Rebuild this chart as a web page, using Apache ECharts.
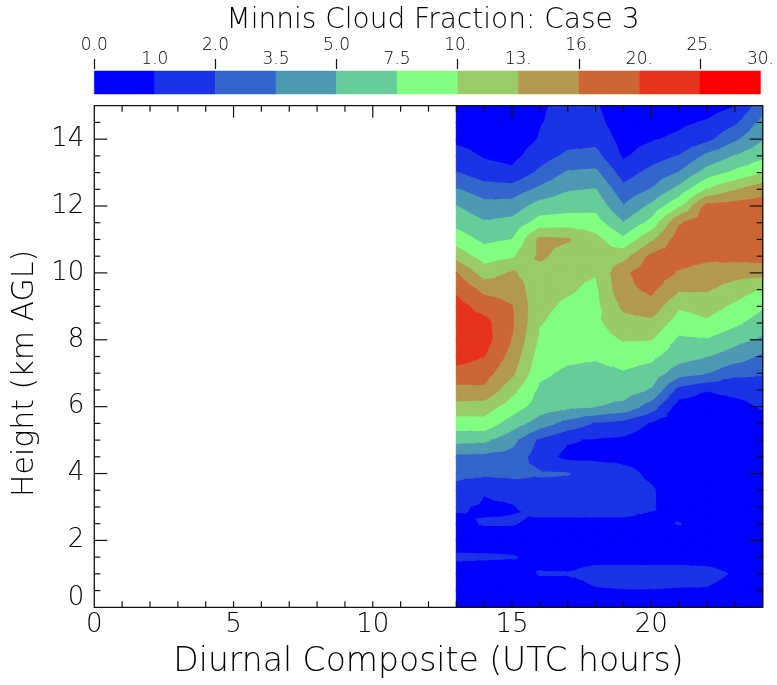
<!DOCTYPE html>
<html><head><meta charset="utf-8">
<script src="https://cdn.jsdelivr.net/npm/echarts@6/dist/echarts.min.js"></script>
<style>html,body{margin:0;padding:0;background:#fff}#c{width:777px;height:685px}</style>
</head><body><div id="c"></div>
<script>
// x positions of data columns (UTC hour)
const hours = [13, 14, 15, 16, 17, 18, 19, 20, 21, 22, 23, 24];
// heights of data rows (km AGL), top to bottom
const heights = [15, 14.5, 14, 13.5, 13, 12.5, 12, 11.5, 11, 10.5, 10, 9.5, 9, 8.5, 8, 7.5, 7, 6.5, 6, 5.5, 5, 4.5, 4, 3.5, 3, 2.5, 2, 1.5, 1, 0.5, 0];
// cloud fraction (%) rows follow heights, columns follow hours
const cloudFraction = [
  [0.3, 0.3, 0.3, 0.9, 1.2, 1.1, 0.3, 0.3, 0.3, 0.5, 0.95, 2.75],
  [0.4, 0.4, 0.4, 0.95, 1.3, 1.3, 0.4, 0.5, 0.8, 1.1, 1.8, 3.95],
  [0.75, 0.6, 0.5, 1.05, 1.6, 1.7, 0.6, 0.9, 1.2, 1.7, 3.2, 4.85],
  [1.4, 0.9, 0.7, 1.5, 2.3, 2.45, 0.85, 1.5, 2.05, 3.8, 5.05, 6.75],
  [2.05, 1.4, 1.2, 2.3, 3.65, 3.8, 1.5, 2.45, 3.55, 6.0, 8.0, 9.75],
  [3.55, 2.75, 2.6, 3.8, 4.85, 5.05, 2.45, 3.55, 5.75, 10.1, 12.7, 14.8],
  [5.05, 3.95, 4.1, 6.0, 6.5, 6.75, 3.55, 5.5, 9.5, 17.2, 17.6, 18.0],
  [6.75, 5.25, 5.75, 8.5, 8.75, 8.5, 5.05, 8.25, 15.7, 18.4, 18.4, 18.8],
  [8.75, 6.9, 7.5, 13.6, 13.3, 10.9, 8.0, 12.4, 18.0, 18.4, 18.4, 18.8],
  [11.8, 8.75, 9.6, 13.6, 11.5, 10.6, 11.8, 16.8, 17.6, 16.8, 17.2, 17.6],
  [16.1, 11.5, 13.3, 11.5, 10.6, 10.15, 15.4, 18.4, 15.7, 14.8, 14.2, 13.9],
  [19.2, 15.1, 14.8, 10.9, 10.3, 9.5, 15.1, 16.8, 13.3, 13.3, 11.5, 9.75],
  [21.75, 18.4, 16.1, 10.6, 9.6, 9.25, 13.6, 14.8, 10.3, 11.2, 9.5, 7.75],
  [23.0, 21.5, 16.4, 10.15, 9.0, 9.4, 11.8, 12.1, 8.75, 9.5, 8.0, 6.25],
  [23.0, 22.0, 15.9, 9.5, 8.75, 9.0, 10.15, 10.05, 7.0, 7.25, 5.75, 4.7],
  [22.0, 20.1, 14.8, 8.75, 8.0, 7.75, 8.5, 8.0, 6.0, 5.05, 4.25, 3.2],
  [18.4, 17.6, 13.6, 8.0, 7.0, 6.75, 7.25, 6.5, 4.1, 3.55, 2.3, 2.15],
  [15.1, 15.4, 10.9, 7.0, 6.25, 6.0, 6.25, 4.85, 1.6, 1.05, 1.3, 1.5],
  [11.8, 11.5, 8.75, 6.25, 5.5, 5.05, 4.55, 2.75, 0.5, 0.4, 0.6, 1.1],
  [8.75, 9.0, 6.25, 4.25, 2.9, 1.9, 1.6, 0.9, 0.4, 0.4, 0.4, 0.6],
  [5.75, 5.5, 3.95, 1.8, 1.1, 0.9, 0.8, 0.5, 0.4, 0.4, 0.4, 0.4],
  [3.1, 3.05, 2.9, 1.5, 0.7, 0.7, 0.7, 0.6, 0.4, 0.4, 0.4, 0.4],
  [2.45, 2.3, 2.45, 2.15, 2.05, 1.7, 1.3, 0.8, 0.4, 0.4, 0.4, 0.4],
  [1.6, 1.05, 1.2, 1.6, 1.7, 1.6, 1.4, 1.1, 0.4, 0.4, 0.4, 0.4],
  [1.1, 0.9, 0.95, 1.3, 1.3, 1.3, 1.3, 1.1, 0.4, 0.4, 0.4, 0.4],
  [0.8, 1.05, 1.05, 0.8, 0.8, 0.8, 0.8, 0.7, 1.05, 0.4, 0.4, 0.4],
  [0.5, 0.6, 0.6, 0.5, 0.5, 0.5, 0.5, 0.5, 0.4, 0.4, 0.4, 0.4],
  [1.15, 1.1, 1.05, 0.8, 0.6, 0.7, 0.6, 0.6, 0.6, 0.6, 0.5, 0.4],
  [0.5, 0.5, 0.5, 1.05, 1.05, 1.3, 1.4, 1.4, 1.4, 1.3, 0.9, 0.4],
  [0.4, 0.4, 0.4, 0.5, 0.5, 0.9, 0.95, 0.95, 0.9, 0.9, 0.6, 0.4],
  [0.4, 0.4, 0.4, 0.4, 0.4, 0.4, 0.4, 0.4, 0.4, 0.4, 0.4, 0.4]
];
// contour levels and colourbar labels
const levels = [0, 1, 2, 3.5, 5, 7.5, 10, 13, 16, 20, 25, 30];
const levelLabels = ['0.0', '1.0', '2.0', '3.5', '5.0', '7.5', '10.', '13.', '16.', '20.', '25.', '30.'];
const bandColors = ['#0000FF', '#1A33E6', '#3366CC', '#4D99B3', '#66CC99', '#80FF80', '#99CC66', '#B3994D', '#CC6633', '#E6331A', '#FF0000'];
// axis tick positions
const hourTicks = [1, 2, 3, 4, 5, 6, 7, 8, 9, 10, 11, 12, 13, 14, 15, 16, 17, 18, 19, 20, 21, 22, 23];
const hourLabels = [0, 5, 10, 15, 20];
const heightTicks = [0.5, 1, 1.5, 2, 2.5, 3, 3.5, 4, 4.5, 5, 5.5, 6, 6.5, 7, 7.5, 8, 8.5, 9, 9.5, 10, 10.5, 11, 11.5, 12, 12.5, 13, 13.5, 14, 14.5];
const heightLabels = [0, 2, 4, 6, 8, 10, 12, 14];

const FONT = 'DejaVu Sans';
const TXT = '#000';
const X_MIN = 0, X_MAX = 24, Y_MIN = 0, Y_MAX = 15;

function toLevel(v) {
  const n = levels.length - 1;
  for (let k = 0; k < n; k++) {
    if (v < levels[k + 1] || k === n - 1) return k + (v - levels[k]) / (levels[k + 1] - levels[k]);
  }
  return 0;
}
function clipPoly(poly, lv, keepAbove) {
  const out = [];
  for (let i = 0; i < poly.length; i++) {
    const a = poly[i], b = poly[(i + 1) % poly.length];
    const ina = keepAbove ? a.l >= lv : a.l <= lv;
    const inb = keepAbove ? b.l >= lv : b.l <= lv;
    if (ina) out.push(a);
    if (ina !== inb) {
      const t = (lv - a.l) / (b.l - a.l);
      out.push({ x: a.x + t * (b.x - a.x), y: a.y + t * (b.y - a.y), l: lv });
    }
  }
  return out;
}

const cells = [];
for (let r = 0; r < heights.length - 1; r++) {
  for (let c = 0; c < hours.length - 1; c++) {
    cells.push([(hours[c] + hours[c + 1]) / 2, (heights[r] + heights[r + 1]) / 2, c, r]);
  }
}
const nb = bandColors.length;

function renderContour(params, api) {
  const c = api.value(2), r = api.value(3);
  const corners = [[c, r], [c + 1, r], [c + 1, r + 1], [c, r + 1]].map(function (cr) {
    const p = api.coord([hours[cr[0]], heights[cr[1]]]);
    return { x: p[0], y: p[1], l: toLevel(cloudFraction[cr[1]][cr[0]]) };
  });
  const center = {
    x: (corners[0].x + corners[2].x) / 2,
    y: (corners[0].y + corners[2].y) / 2,
    l: (corners[0].l + corners[1].l + corners[2].l + corners[3].l) / 4
  };
  const children = [];
  for (let t = 0; t < 4; t++) {
    const tri = [corners[t], corners[(t + 1) % 4], center];
    const ls = tri.map(p => p.l);
    const mn = Math.min.apply(null, ls), mx = Math.max.apply(null, ls);
    const b0 = Math.max(0, Math.floor(mn)), b1 = Math.min(nb - 1, Math.floor(mx));
    for (let b = b0; b <= b1; b++) {
      let poly = tri;
      if (b > 0) poly = clipPoly(poly, b, true);
      if (b < nb - 1 && poly.length) poly = clipPoly(poly, b + 1, false);
      if (poly.length >= 3) {
        children.push({
          type: 'polygon',
          shape: { points: poly.map(p => [p.x, p.y]) },
          style: { fill: bandColors[b], stroke: bandColors[b], lineWidth: 1.1, lineJoin: 'round' }
        });
      }
    }
  }
  return { type: 'group', children: children };
}

function renderBar(params, api) {
  const k = api.value(0);
  const p0 = api.coord([k, 0]);
  const p1 = api.coord([k + 1, 1]);
  return {
    type: 'rect',
    shape: { x: p0[0], y: p1[1], width: p1[0] - p0[0], height: p0[1] - p1[1] },
    style: { fill: bandColors[k], stroke: bandColors[k], lineWidth: 0.5 }
  };
}

// plot frame and inward ticks: [x, y, side, length]; side 0 bottom, 1 top, 2 left, 3 right, 4 frame
const tickData = [[X_MIN, Y_MIN, 4, 0]];
hourTicks.forEach(function (v) {
  tickData.push([v, Y_MIN, 0, 6]);
  tickData.push([v, Y_MAX, 1, hourLabels.indexOf(v) >= 0 ? 12 : 6]);
});
heightTicks.forEach(function (v) {
  const len = heightLabels.indexOf(v) >= 0 ? 13 : 6;
  tickData.push([X_MIN, v, 2, len]);
  tickData.push([X_MAX, v, 3, len]);
});
function renderTick(params, api) {
  const side = api.value(2), len = api.value(3);
  if (side === 4) {
    const a = api.coord([X_MIN, Y_MAX]), b = api.coord([X_MAX, Y_MIN]);
    return { type: 'rect', shape: { x: a[0], y: a[1], width: b[0] - a[0], height: b[1] - a[1] },
      style: { fill: 'none', stroke: '#111', lineWidth: 1.3 } };
  }
  const p = api.coord([api.value(0), api.value(1)]);
  const d = [[0, -1], [0, 1], [1, 0], [-1, 0]][side];
  return { type: 'line', shape: { x1: p[0], y1: p[1], x2: p[0] + d[0] * len, y2: p[1] + d[1] * len },
    style: { stroke: '#111', lineWidth: 1.2 } };
}

const labelStyle = { fontFamily: FONT, fontWeight: 200, color: TXT };

const chart = echarts.init(document.getElementById('c'), null, { renderer: 'canvas' });
chart.setOption({
  animation: false,
  backgroundColor: '#fff',
  title: {
    text: 'Minnis Cloud Fraction: Case 3',
    left: 428, top: 2, textAlign: 'center',
    textStyle: { fontFamily: FONT, fontWeight: 200, fontSize: 28, color: TXT }
  },
  grid: [
    { left: 94.3, right: 14.3, top: 105.7, bottom: 77.7 },
    { left: 94.3, right: 14.3, top: 71, height: 23 }
  ],
  xAxis: [
    { gridIndex: 0, type: 'value', min: X_MIN, max: X_MAX, interval: 5, position: 'bottom',
      axisLine: { show: false }, axisTick: { show: false },
      axisLabel: Object.assign({ fontSize: 26, margin: 5, showMaxLabel: false }, labelStyle),
      splitLine: { show: false },
      name: 'Diurnal Composite (UTC hours)', nameLocation: 'middle', nameGap: 39,
      nameTextStyle: { fontFamily: FONT, fontWeight: 200, fontSize: 33, color: TXT } },
    { gridIndex: 1, type: 'category', data: levelLabels, boundaryGap: false, position: 'top',
      axisLine: { show: false }, axisTick: { show: false },
      axisLabel: Object.assign({ fontSize: 17, margin: 3, interval: function (i) { return i % 2 === 1; } }, labelStyle) },
    { gridIndex: 1, type: 'category', data: levelLabels, boundaryGap: false, position: 'top', offset: 2,
      axisLine: { show: false },
      axisTick: { show: true, length: 10, interval: function (i) { return i % 2 === 0; }, lineStyle: { color: '#111', width: 1.2 } },
      axisLabel: Object.assign({ fontSize: 17, margin: 15, interval: function (i) { return i % 2 === 0; } }, labelStyle) }
  ],
  yAxis: [
    { gridIndex: 0, type: 'value', min: Y_MIN, max: Y_MAX, interval: 2, position: 'left',
      axisLine: { show: false }, axisTick: { show: false },
      axisLabel: Object.assign({ fontSize: 26, margin: 10, showMaxLabel: false,
        formatter: v => v === 0 ? '{z|0}' : String(v),
        rich: { z: { fontSize: 26, fontFamily: FONT, fontWeight: 200, color: TXT, padding: [0, 0, 18, 0] } } }, labelStyle),
      splitLine: { show: false },
      name: 'Height (km AGL)', nameLocation: 'middle', nameGap: 50, nameRotate: 90,
      nameTextStyle: { fontFamily: FONT, fontWeight: 200, fontSize: 30, color: TXT, padding: [0, 34, 0, 0] } },
    { gridIndex: 1, type: 'value', min: 0, max: 1, show: false }
  ],
  series: [
    { type: 'custom', xAxisIndex: 0, yAxisIndex: 0, renderItem: renderContour, data: cells,
      encode: { x: 0, y: 1 }, clip: true, silent: true },
    { type: 'custom', xAxisIndex: 0, yAxisIndex: 0, renderItem: renderTick, data: tickData,
      encode: { x: 0, y: 1 }, silent: true },
    { type: 'custom', xAxisIndex: 1, yAxisIndex: 1, renderItem: renderBar,
      data: bandColors.map((c, k) => [k, 0.5]), encode: { x: 0, y: 1 }, silent: true }
  ]
});
</script>
</body></html>
